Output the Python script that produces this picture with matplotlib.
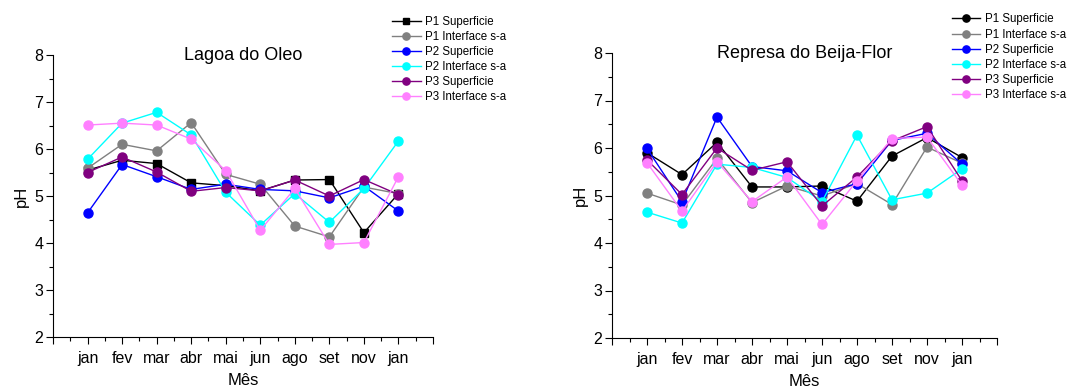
import matplotlib
matplotlib.use("Agg")
import matplotlib.pyplot as plt
from matplotlib.ticker import MultipleLocator, FixedLocator

plt.rcParams['font.family'] = ['Liberation Sans', 'DejaVu Sans']

# Months sampled (positions 1..10 on the x axis)
meses = ["jan", "fev", "mar", "abr", "mai", "jun", "ago", "set", "nov", "jan"]
series_names = ["P1 Superficie", "P1 Interface s-a", "P2 Superficie",
                "P2 Interface s-a", "P3 Superficie", "P3 Interface s-a"]
colors = ["black", "#808080", "#0000ff", "#00ffff", "#800080", "#ff80ff"]

# pH values - Lagoa do Oleo
lagoa_p1_sup = [5.55, 5.76, 5.69, 5.28, 5.22, 5.11, 5.34, 5.35, 4.22, 5.05]
lagoa_p1_int = [5.59, 6.10, 5.96, 6.56, 5.46, 5.25, 4.36, 4.13, 5.19, 5.05]
lagoa_p2_sup = [4.64, 5.67, 5.41, 5.14, 5.25, 5.14, 5.11, 4.96, 5.21, 4.68]
lagoa_p2_int = [5.78, 6.55, 6.78, 6.30, 5.08, 4.38, 5.05, 4.44, 5.16, 6.17]
lagoa_p3_sup = [5.50, 5.83, 5.51, 5.10, 5.18, 5.11, 5.34, 5.00, 5.35, 5.03]
lagoa_p3_int = [6.51, 6.55, 6.51, 6.21, 5.54, 4.27, 5.16, 3.97, 4.01, 5.41]

# pH values - Represa do Beija-Flor
represa_p1_sup = [5.90, 5.44, 6.12, 5.18, 5.18, 5.20, 4.88, 5.83, 6.22, 5.80]
represa_p1_int = [5.05, 4.80, 5.78, 4.85, 5.20, 4.99, 5.25, 4.81, 6.02, 5.68]
represa_p2_sup = [5.99, 4.87, 6.65, 5.61, 5.52, 5.06, 5.25, 6.16, 6.31, 5.66]
represa_p2_int = [4.65, 4.42, 5.66, 5.59, 5.38, 4.87, 6.27, 4.91, 5.05, 5.56]
represa_p3_sup = [5.75, 5.02, 6.00, 5.53, 5.71, 4.78, 5.39, 6.15, 6.45, 5.31]
represa_p3_int = [5.69, 4.67, 5.71, 4.87, 5.39, 4.39, 5.31, 6.20, 6.23, 5.22]

lagoa = [lagoa_p1_sup, lagoa_p1_int, lagoa_p2_sup, lagoa_p2_int, lagoa_p3_sup, lagoa_p3_int]
represa = [represa_p1_sup, represa_p1_int, represa_p2_sup, represa_p2_int,
           represa_p3_sup, represa_p3_int]

W, H = 1072, 390
fig = plt.figure(figsize=(W / 100, H / 100), dpi=100)


def px_axes(x0, y0, x1, y1):
    # axes rectangle from pixel coordinates (top-left origin)
    return fig.add_axes([x0 / W, (H - y1) / H, (x1 - x0) / W, (y1 - y0) / H])


def draw_panel(ax, data, title, first_marker, legend_x):
    x = list(range(1, len(meses) + 1))
    for i, (vals, name, c) in enumerate(zip(data, series_names, colors)):
        marker = first_marker if i == 0 else "o"
        ax.plot(x, vals, color=c, marker=marker, markersize=6.5 if marker == "o" else 6,
                linewidth=1.0, label=name)
    ax.set_xlim(0, 11)
    ax.set_ylim(2, 8)
    ax.xaxis.set_major_locator(FixedLocator(range(0, 12)))
    ax.set_xticklabels([""] + meses + [""])
    ax.xaxis.set_minor_locator(MultipleLocator(0.5))
    ax.yaxis.set_major_locator(MultipleLocator(1))
    ax.yaxis.set_minor_locator(MultipleLocator(0.5))
    ax.tick_params(which="major", direction="out", length=5, width=0.8, labelsize=11.5, pad=2)
    ax.tick_params(which="minor", direction="out", length=3, width=0.8)
    ax.tick_params(axis="x", which="major", pad=5)
    ax.spines["top"].set_visible(False)
    ax.spines["right"].set_visible(False)
    ax.set_xlabel("Mês", fontsize=12, labelpad=5)
    ax.set_ylabel("pH", fontsize=12, labelpad=4)
    ax.text(0.5, 1.0, title, transform=ax.transAxes, ha="center", va="center", fontsize=13)
    leg = ax.legend(loc="upper left", bbox_to_anchor=(legend_x, 1.155), frameon=False,
                    fontsize=8.3, handlelength=2.5, handletextpad=0.4, labelspacing=0.27,
                    borderaxespad=0, markerscale=0.8)
    return leg


ax1 = px_axes(53, 55, 433, 337)
draw_panel(ax1, lagoa, "Lagoa do Oleo", "s", 0.88)

ax2 = px_axes(612, 53, 997, 338)
draw_panel(ax2, represa, "Represa do Beija-Flor", "o", 0.87)

fig.savefig("out.png", dpi=100)
